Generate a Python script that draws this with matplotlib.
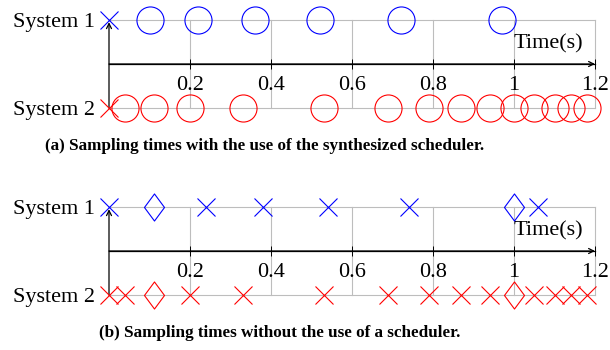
import numpy as np
import matplotlib.pyplot as plt
from matplotlib.path import Path

plt.rcParams['font.family'] = ['Liberation Serif', 'DejaVu Serif']

# sampling instants (s)
a_sys1_cross = [0.0]
a_sys1_circle = [0.10, 0.22, 0.36, 0.52, 0.72, 0.97]
a_sys2_cross = [0.0]
a_sys2_circle = [0.04, 0.11, 0.20, 0.33, 0.53, 0.69, 0.79, 0.87, 0.94,
                 1.00, 1.05, 1.10, 1.14, 1.18]

b_sys1_cross = [0.0, 0.24, 0.38, 0.54, 0.74, 1.06]
b_sys1_diamond = [0.11, 1.00]
b_sys2_cross = [0.0, 0.04, 0.20, 0.33, 0.53, 0.69, 0.79, 0.87, 0.94,
                1.05, 1.10, 1.14, 1.18]
b_sys2_diamond = [0.11, 1.00]

xticks = [0.2, 0.4, 0.6, 0.8, 1.0, 1.2]
xticklabels = ['0.2', '0.4', '0.6', '0.8', '1', '1.2']
captions = ['(a) Sampling times with the use of the synthesized scheduler.',
            '(b) Sampling times without the use of a scheduler.']

# taller-than-wide diamond like pgfplots
diamond = Path([(0, 1), (0.74, 0), (0, -1), (-0.74, 0), (0, 1)],
               [Path.MOVETO, Path.LINETO, Path.LINETO, Path.LINETO, Path.CLOSEPOLY])

BLUE = (0, 0, 1)
RED = (1, 0, 0)
GRID = '#bdbdbd'
FS = 16


def setup_axes(ax):
    ax.set_xlim(0, 1.2)
    ax.set_ylim(-1, 1)
    for s in ['top', 'right', 'left']:
        ax.spines[s].set_visible(False)
    ax.spines['bottom'].set_position(('data', 0))
    ax.spines['bottom'].set_linewidth(0.9)
    ax.set_yticks([])
    ax.set_xticks(xticks)
    ax.set_xticklabels(xticklabels, fontsize=FS)
    ax.tick_params(axis='x', direction='inout', length=7, width=0.7, pad=5)
    # grid box
    for x in xticks:
        ax.plot([x, x], [-1, 1], color=GRID, lw=0.8, zorder=0, clip_on=False)
    ax.plot([0, 1.2], [1, 1], color=GRID, lw=0.8, zorder=0, clip_on=False)
    ax.plot([0, 1.2], [-1, -1], color=GRID, lw=0.8, zorder=0, clip_on=False)
    # arrows
    ax.annotate('', xy=(1.2, 0), xytext=(0, 0),
                arrowprops=dict(arrowstyle='->', lw=0.9, color='black',
                                shrinkA=0, shrinkB=0, mutation_scale=9))
    ax.annotate('', xy=(0, 0.95), xytext=(0, -1),
                arrowprops=dict(arrowstyle='->', lw=0.9, color='black',
                                shrinkA=0, shrinkB=0, mutation_scale=9))
    ax.text(1.086, 0.45, 'Time(s)', fontsize=FS, ha='center', va='center')
    ax.text(-0.035, 1, 'System 1', fontsize=FS, ha='right', va='center_baseline')
    ax.text(-0.035, -1, 'System 2', fontsize=FS, ha='right', va='center_baseline')


def draw(ax, xs, y, marker, color, ms):
    ax.plot(xs, np.full(len(xs), y), linestyle='none', marker=marker,
            markersize=ms, markerfacecolor='none', markeredgecolor=color,
            markeredgewidth=0.8, clip_on=False, zorder=5)


fig = plt.figure(figsize=(6.1, 3.5), dpi=100)
ax_a = fig.add_axes([109 / 610, 1 - 108 / 350, 486 / 610, 88 / 350])
ax_b = fig.add_axes([109 / 610, 1 - 295 / 350, 486 / 610, 88 / 350])

for ax in (ax_a, ax_b):
    setup_axes(ax)

draw(ax_a, a_sys1_cross, 1, 'x', BLUE, 13)
draw(ax_a, a_sys1_circle, 1, 'o', BLUE, 19.5)
draw(ax_a, a_sys2_cross, -1, 'x', RED, 13)
draw(ax_a, a_sys2_circle, -1, 'o', RED, 19.5)

draw(ax_b, b_sys1_cross, 1, 'x', BLUE, 13)
draw(ax_b, b_sys1_diamond, 1, diamond, BLUE, 19.5)
draw(ax_b, b_sys2_cross, -1, 'x', RED, 13)
draw(ax_b, b_sys2_diamond, -1, diamond, RED, 19.5)

fig.text(265 / 610, 1 - 146 / 350, captions[0], fontsize=12.3,
         fontweight='bold', ha='center', va='center')
fig.text(280 / 610, 1 - 333 / 350, captions[1], fontsize=12.3,
         fontweight='bold', ha='center', va='center')

fig.savefig('out.png', dpi=100)
